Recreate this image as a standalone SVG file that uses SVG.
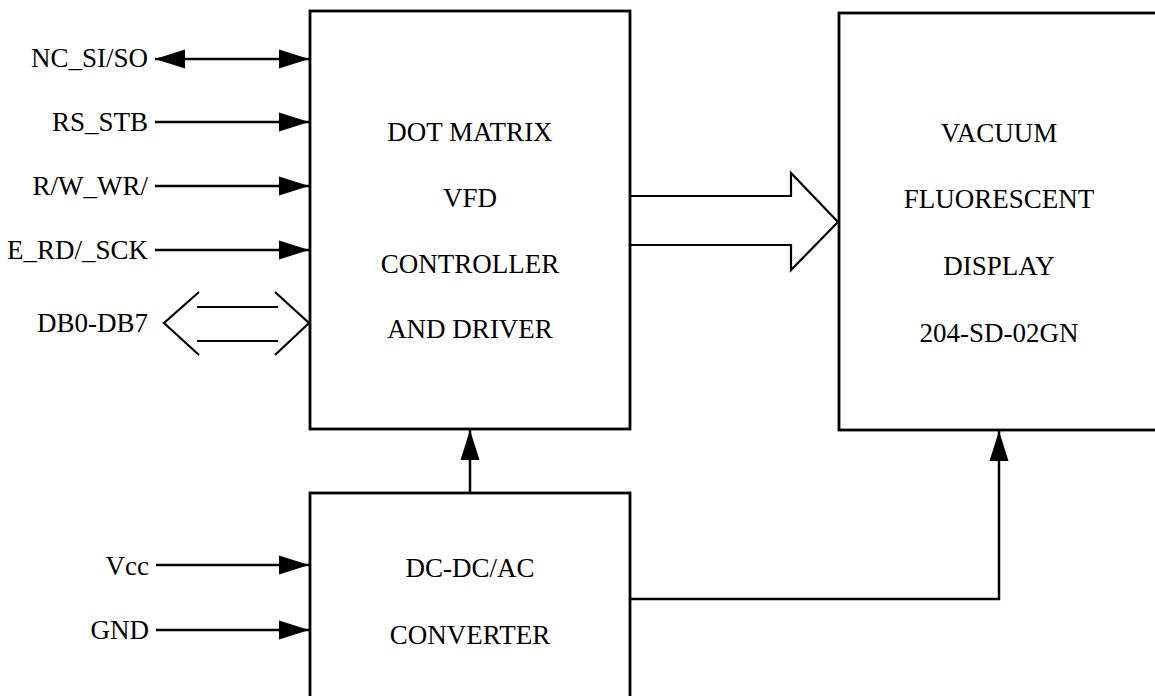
<svg xmlns="http://www.w3.org/2000/svg" width="1155" height="696" viewBox="0 0 1155 696">
<style>
.box{fill:#fff;stroke:#000;stroke-width:2.8}
.ln{fill:none;stroke:#000;stroke-width:2.5}
.bus{fill:none;stroke:#000;stroke-width:2.2;stroke-linejoin:miter}
text{font-family:"Liberation Serif","Times New Roman",serif;font-size:27px;fill:#000}
.c{text-anchor:middle}
.r{text-anchor:end}
</style>
<defs>
<marker id="ah" viewBox="0 0 30 20" refX="30" refY="10" markerWidth="30" markerHeight="20" markerUnits="userSpaceOnUse" orient="auto-start-reverse">
<path d="M0,0.5 L30,10 L0,19.5 z" fill="#000"/>
</marker>
</defs>
<rect width="1155" height="696" fill="#fff"/>
<g id="controller">
<rect class="box" x="310" y="11" width="320" height="418"/>
<text class="c" x="470" y="141">DOT MATRIX</text>
<text class="c" x="470" y="207">VFD</text>
<text class="c" x="470" y="273">CONTROLLER</text>
<text class="c" x="470" y="338">AND DRIVER</text>
</g>
<g id="display">
<rect class="box" x="839" y="13" width="330" height="417"/>
<text class="c" x="999" y="142">VACUUM</text>
<text class="c" x="999" y="208">FLUORESCENT</text>
<text class="c" x="999" y="275">DISPLAY</text>
<text class="c" x="999" y="342">204-SD-02GN</text>
</g>
<g id="converter">
<rect class="box" x="310" y="493" width="320" height="230"/>
<text class="c" x="470" y="577">DC-DC/AC</text>
<text class="c" x="470" y="644">CONVERTER</text>
</g>
<g id="labels">
<text class="r" x="148" y="67">NC_SI/SO</text>
<text class="r" x="148" y="131">RS_STB</text>
<text class="r" x="148" y="195">R/W_WR/</text>
<text class="r" x="148" y="259">E_RD/_SCK</text>
<text class="r" x="148" y="332">DB0-DB7</text>
<text class="r" x="149" y="575">Vcc</text>
<text class="r" x="149" y="639">GND</text>
</g>
<g id="connectors">
<line class="ln" x1="155" y1="59" x2="309" y2="59" marker-start="url(#ah)" marker-end="url(#ah)"/>
<line class="ln" x1="155" y1="122" x2="309" y2="122" marker-end="url(#ah)"/>
<line class="ln" x1="155" y1="186" x2="309" y2="186" marker-end="url(#ah)"/>
<line class="ln" x1="155" y1="250" x2="309" y2="250" marker-end="url(#ah)"/>
<path class="bus" d="M199,292 L164,323 L199,355 M197,307 L278,307 M197,341 L278,341 M275,292 L309,323 L275,355"/>
<line class="ln" x1="156" y1="565" x2="309" y2="565" marker-end="url(#ah)"/>
<line class="ln" x1="156" y1="630" x2="309" y2="630" marker-end="url(#ah)"/>
<line class="ln" x1="470" y1="493" x2="470" y2="430" marker-end="url(#ah)"/>
<polyline class="ln" points="631,599 999,599 999,431" marker-end="url(#ah)"/>
<path class="bus" d="M631,196 L791,196 L791,173 L838,222 L791,270 L791,245 L631,245"/>
</g>
</svg>
